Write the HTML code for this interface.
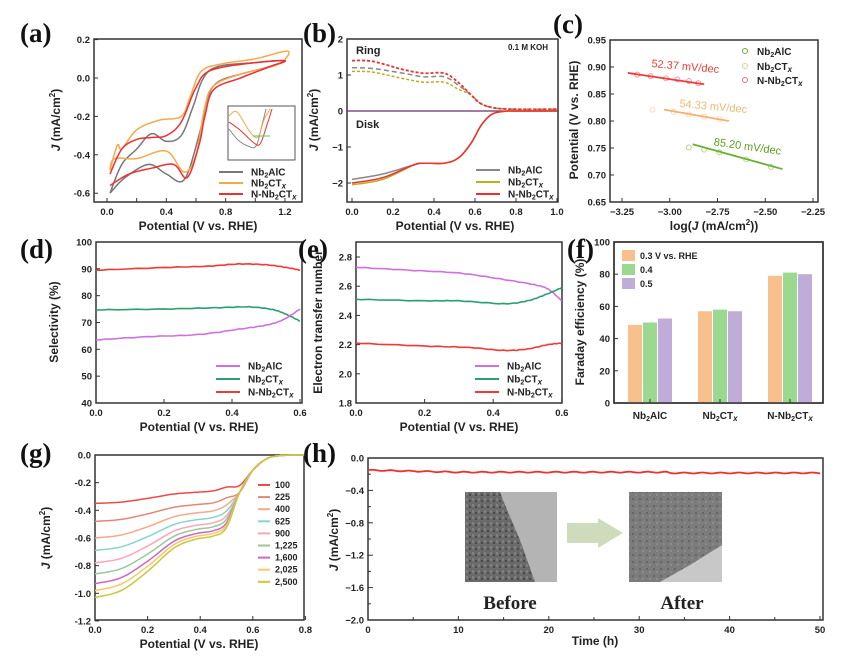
<!DOCTYPE html>
<html><head><meta charset="utf-8"><style>
body{margin:0;background:#fff}
svg{display:block}
text{font-family:"Liberation Sans",sans-serif;font-weight:bold;fill:#222}
.t{font-size:9.5px}
.ax{font-size:12px}
.pl{font-family:"Liberation Serif",serif;font-size:27px;fill:#111}
.lg{font-size:10px}
</style></head><body>
<svg id="s" width="849" height="671" viewBox="0 0 849 671" xmlns="http://www.w3.org/2000/svg">
<defs>
<pattern id="noise" width="6" height="6" patternUnits="userSpaceOnUse">
<rect width="6" height="6" fill="#6a6a6a"/><rect x="1" y="2" width="2" height="2" fill="#4a4a4a"/><rect x="4" y="0" width="2" height="3" fill="#808080"/>
</pattern>
<pattern id="noise2" width="7" height="7" patternUnits="userSpaceOnUse">
<rect width="7" height="7" fill="#7c7c7c"/><rect x="2" y="1" width="2" height="2" fill="#666"/><rect x="5" y="4" width="2" height="2" fill="#8c8c8c"/>
</pattern>
</defs>
<g id="g"></g>
<text class="pl" x="20" y="42">(a)</text>
<text class="pl" x="303" y="42">(b)</text>
<text class="pl" x="553" y="33">(c)</text>
<text class="pl" x="20" y="258">(d)</text>
<text class="pl" x="298" y="258">(e)</text>
<text class="pl" x="567" y="258">(f)</text>
<text class="pl" x="20" y="462">(g)</text>
<text class="pl" x="303" y="462">(h)</text>
<rect x="465" y="492" width="92" height="90" fill="url(#noise)"/>
<polygon points="500,492 557,492 557,582 535,582 520,540 505,505" fill="#b4b4b4"/>
<rect x="629" y="492" width="93" height="90" fill="url(#noise2)"/>
<polygon points="722,545 722,582 660,582 690,565" fill="#c8c8c8"/>
<polygon points="567,523 598,523 598,518 623,533 598,548 598,543 567,543" fill="#cfdcbc"/>
<text x="510" y="609" text-anchor="middle" style="font-family:'Liberation Serif',serif;font-size:19px">Before</text>
<text x="682" y="609" text-anchor="middle" style="font-family:'Liberation Serif',serif;font-size:19px">After</text>
</svg>
<script>
const S=document.getElementById('g');const NS='http://www.w3.org/2000/svg';
function el(t,a,txt){const e=document.createElementNS(NS,t);for(const k in a)e.setAttribute(k,a[k]);if(txt!==undefined)e.textContent=txt;S.appendChild(e);return e;}
function txt(x,y,s,cls,anchor,extra){const e=el('text',Object.assign({x:x,y:y,class:cls||'t','text-anchor':anchor||'middle'},extra||{}));e.innerHTML=s;return e;}
function cr(pts,n){n=n||8;const o=[];for(let i=0;i<pts.length-1;i++){const p0=pts[Math.max(i-1,0)],p1=pts[i],p2=pts[i+1],p3=pts[Math.min(i+2,pts.length-1)];for(let k=0;k<n;k++){const t=k/n,t2=t*t,t3=t2*t;o.push([0.5*((2*p1[0])+(-p0[0]+p2[0])*t+(2*p0[0]-5*p1[0]+4*p2[0]-p3[0])*t2+(-p0[0]+3*p1[0]-3*p2[0]+p3[0])*t3),0.5*((2*p1[1])+(-p0[1]+p2[1])*t+(2*p0[1]-5*p1[1]+4*p2[1]-p3[1])*t2+(-p0[1]+3*p1[1]-3*p2[1]+p3[1])*t3)]);}}o.push(pts[pts.length-1]);return o;}
function line(X,Y,data,col,w,dash,jit){let p=cr(data.map(d=>[X(d[0]),Y(d[1])]));if(jit)p=p.map((q,i)=>[q[0],q[1]+(Math.sin(i*2.3)*jit)]);const a={points:p.map(q=>q[0].toFixed(1)+','+q[1].toFixed(1)).join(' '),fill:'none',stroke:col,'stroke-width':w||1.5,'stroke-linejoin':'round'};if(dash)a['stroke-dasharray']=dash;el('polyline',a);}
function box(x0,y0,x1,y1){el('rect',{x:x0,y:y0,width:x1-x0,height:y1-y0,fill:'none',stroke:'#333','stroke-width':1.5});}
function yt(x0,y,lab,len){el('line',{x1:x0,y1:y,x2:x0+(len||4),y2:y,stroke:'#333','stroke-width':1});if(lab!==null)txt(x0-4,y+3.5,lab,'t','end');}
function xt(x,y1,lab){el('line',{x1:x,y1:y1,x2:x,y2:y1-4,stroke:'#333','stroke-width':1});if(lab!==null)txt(x,y1+13,lab,'t');}
function ylab(x,y,s){txt(x,y,s,'ax','middle',{transform:'rotate(-90 '+x+' '+y+')'});}
function leg(x,y,col,s,w){el('line',{x1:x,y1:y,x2:x+24,y2:y,stroke:col,'stroke-width':w||2});txt(x+32,y+3.5,s,'lg','start');}
const NbAlC='Nb<tspan font-size="7" dy="2">2</tspan><tspan dy="-2">AlC</tspan>';
const NbCT='Nb<tspan font-size="7" dy="2">2</tspan><tspan dy="-2">CT</tspan><tspan font-style="italic" font-size="8" dy="2">x</tspan>';
const NNbCT='N-'+NbCT;
const Jl='<tspan font-style="italic">J</tspan> (mA/cm<tspan font-size="8" dy="-5">2</tspan><tspan dy="5">)</tspan>';
{const X=v=>107+148.3*v,Y=j=>78-192*j;box(94,39,302,202);
[0.2,0,-0.2,-0.4,-0.6].forEach(v=>yt(94,Y(v),v.toFixed(1)));[0,0.4,0.8,1.2].forEach(v=>xt(X(v),202,v.toFixed(1)));
[0.2,0.6,1.0].forEach(v=>xt(X(v),202,null));
txt(198,230,'Potential (V vs. RHE)','ax');ylab(60,120,Jl);
line(X,Y,[[0.02,-0.6],[0.1,-0.45],[0.2,-0.37],[0.3,-0.29],[0.4,-0.33],[0.5,-0.3],[0.58,-0.15],[0.65,0],[0.75,0.06],[1.0,0.08],[1.2,0.09],[1.1,0.06],[0.9,0.02],[0.75,-0.02],[0.68,-0.1],[0.62,-0.3],[0.52,-0.53],[0.4,-0.5],[0.28,-0.45],[0.12,-0.52],[0.02,-0.6]],'#777',1.5);
line(X,Y,[[0.02,-0.48],[0.07,-0.35],[0.1,-0.37],[0.2,-0.27],[0.35,-0.22],[0.5,-0.2],[0.56,-0.1],[0.63,0.03],[0.75,0.07],[1.0,0.1],[1.22,0.14],[1.15,0.07],[0.9,0.02],[0.72,-0.04],[0.66,-0.15],[0.6,-0.4],[0.52,-0.49],[0.4,-0.38],[0.2,-0.42],[0.05,-0.42],[0.02,-0.48]],'#f7a84a',1.5);
line(X,Y,[[0.02,-0.5],[0.1,-0.37],[0.2,-0.32],[0.3,-0.31],[0.4,-0.3],[0.5,-0.23],[0.6,-0.05],[0.7,0.04],[1.0,0.08],[1.2,0.09],[1.1,0.06],[0.9,0.0],[0.72,-0.06],[0.66,-0.2],[0.62,-0.35],[0.54,-0.52],[0.45,-0.45],[0.3,-0.47],[0.15,-0.5],[0.02,-0.56]],'#f03030',1.5);
el('rect',{x:228,y:106,width:67,height:54,fill:'#fff',stroke:'#555','stroke-width':1});
line(x=>x,y=>y,[[229,129],[238,140],[248,146],[256,146],[262,125],[266,109]],'#888',1);
line(x=>x,y=>y,[[229,116],[237,112],[250,132],[258,137],[264,120],[270,109]],'#f7a84a',1);
line(x=>x,y=>y,[[229,122],[240,130],[254,143],[260,144],[266,128],[272,109]],'#f03030',1);
el('line',{x1:253,y1:136,x2:270,y2:136,stroke:'#5c5','stroke-width':1});
leg(219,172,'#777',NbAlC);leg(219,183,'#f7a84a',NbCT);leg(219,194,'#f03030',NNbCT);}
{const X=v=>352+205*v,Y=j=>111-36*j;box(347,39,558,202);
[2,1,0,-1,-2].forEach(v=>yt(347,Y(v),v==0?'0':(v<0?'\u2212'+(-v):''+v)));[0,0.2,0.4,0.6,0.8,1.0].forEach(v=>xt(X(v),202,v.toFixed(1)));
txt(455,230,'Potential (V vs. RHE)','ax');ylab(318,120,Jl);
txt(356,54,'Ring','t','start',{style:'font-size:11px'});txt(356,128,'Disk','t','start',{style:'font-size:11px'});txt(548,50,'0.1 M KOH','t','end',{style:'font-size:8px'});
el('line',{x1:347,y1:111,x2:558,y2:111,stroke:'#6a2a6a','stroke-width':1.2});
const disk=(a)=>[[0,a],[0.15,a+0.15],[0.3,-1.5],[0.35,-1.45],[0.45,-1.45],[0.52,-1.3],[0.58,-0.9],[0.63,-0.4],[0.68,-0.1],[0.74,-0.01],[0.8,0],[1,0]];
line(X,Y,disk(-1.9),'#888',1.5);line(X,Y,disk(-2.05),'#b8b020',1.5);line(X,Y,disk(-2.0),'#f03030',1.5);
const ring=(a,b)=>[[0,a],[0.1,a-0.02],[0.25,b+0.1],[0.35,b],[0.45,b],[0.52,b*0.75],[0.58,0.45],[0.63,0.2],[0.7,0.08],[0.8,0.05],[1,0.05]];
line(X,Y,ring(1.2,0.95),'#888',1.5,'5,3');line(X,Y,ring(1.1,0.8),'#b8b020',1.5,'3,2');line(X,Y,ring(1.4,1.05),'#f03030',1.8,'3,2');
leg(476,170,'#888',NbAlC);leg(476,182,'#b8b020',NbCT);leg(476,194,'#f03030',NNbCT);}
{const X=v=>622+191*(v+3.25),Y=j=>40+540*(0.95-j);box(610,40,818,202);
[0.95,0.9,0.85,0.8,0.75,0.7,0.65].forEach(v=>yt(610,Y(v),v.toFixed(2)));[-3.25,-3,-2.75,-2.5,-2.25].forEach(v=>xt(X(v),202,'\u2212'+(-v).toFixed(2)));
txt(714,230,'log(<tspan font-style="italic">J</tspan> (mA/cm<tspan font-size="8" dy="-5">2</tspan><tspan dy="5">))</tspan>','ax');ylab(578,120,'Potential (V vs. RHE)');
function ser(x0,y0,x1,y1,mk,col){el('line',{x1:X(x0),y1:Y(y0),x2:X(x1),y2:Y(y1),stroke:col,'stroke-width':1.8});mk.forEach(m=>el('circle',{cx:X(m[0]),cy:Y(m[1]),r:2.5,fill:'none',stroke:col,'stroke-width':0.8,opacity:0.6}));}
ser(-3.22,0.889,-2.82,0.868,[[-3.17,0.886],[-3.1,0.883],[-3.02,0.879],[-2.96,0.877],[-2.9,0.874],[-2.85,0.870]],'#f03a3a');
ser(-3.03,0.821,-2.69,0.800,[[-3.09,0.821],[-2.98,0.817],[-2.9,0.812],[-2.82,0.808],[-2.74,0.804]],'#f5b070');
ser(-2.88,0.757,-2.41,0.711,[[-2.9,0.751],[-2.82,0.747],[-2.74,0.742],[-2.6,0.729],[-2.47,0.715]],'#6ab030');
txt(685,70,'52.37 mV/dec','t','middle',{style:'fill:#f03a3a;font-weight:normal;font-size:11px',transform:'rotate(5 685 70)'});
txt(713,110,'54.33 mV/dec','t','middle',{style:'fill:#f0b870;font-weight:normal;font-size:11px',transform:'rotate(5 713 110)'});
txt(747,150,'85.20 mV/dec','t','middle',{style:'fill:#5aa020;font-weight:normal;font-size:11px',transform:'rotate(8 747 150)'});
[['#6ab030',NbAlC,54],['#f0c890',NbCT,69],['#f07070',NNbCT,83]].forEach(a=>{el('circle',{cx:745,cy:a[2]-3,r:2.5,fill:'none',stroke:a[0]});txt(757,a[2]+1,a[1],'lg','start');});}
{const X=v=>96+340*v,Y=j=>242+2.683*(100-j);box(96,242,302,403);
[100,90,80,70,60,50,40].forEach(v=>yt(96,Y(v),''+v));[0,0.2,0.4,0.6].forEach(v=>xt(X(v),403,v.toFixed(1)));
txt(199,431,'Potential (V vs. RHE)','ax');ylab(58,322,'Selectivity (%)');
line(X,Y,[[0,89.5],[0.2,90.5],[0.33,91],[0.42,91.8],[0.5,91.5],[0.56,90.5],[0.6,89.5]],'#f03a3a',1.6,null,0.3);
line(X,Y,[[0,74.7],[0.2,75],[0.35,75.5],[0.45,75.8],[0.52,74.8],[0.56,73],[0.6,70.5]],'#2aa070',1.6,null,0.3);
line(X,Y,[[0,63.5],[0.15,64.7],[0.3,65.5],[0.42,67.5],[0.5,69],[0.55,71],[0.6,75]],'#d070e0',1.6,null,0.3);
leg(216,366,'#d070e0',NbAlC);leg(216,379,'#2aa070',NbCT);leg(216,392,'#f03a3a',NNbCT);}
{const X=v=>356+343*v,Y=j=>257+146*(2.8-j);box(356,242,562,403);
[2.8,2.6,2.4,2.2,2.0,1.8].forEach(v=>yt(356,Y(v),v.toFixed(1)));[0,0.2,0.4,0.6].forEach(v=>xt(X(v),403,v.toFixed(1)));
txt(459,431,'Potential (V vs. RHE)','ax');ylab(322,322,'Electron  transfer number');
line(X,Y,[[0,2.73],[0.15,2.71],[0.3,2.69],[0.42,2.65],[0.52,2.61],[0.56,2.58],[0.6,2.5]],'#d070e0',1.6,null,0.3);
line(X,Y,[[0,2.51],[0.2,2.5],[0.3,2.5],[0.43,2.48],[0.5,2.5],[0.55,2.54],[0.6,2.59]],'#2aa070',1.6,null,0.3);
line(X,Y,[[0,2.21],[0.2,2.19],[0.33,2.18],[0.43,2.16],[0.5,2.17],[0.56,2.2],[0.6,2.21]],'#f03a3a',1.6,null,0.3);
leg(475,366,'#d070e0',NbAlC);leg(475,379,'#2aa070',NbCT);leg(475,392,'#f03a3a',NNbCT);}
{const Y=j=>403-1.61*j;box(614,242,823,403);
[100,80,60,40,20,0].forEach(v=>yt(614,Y(v),''+v));
ylab(584,322,'Faraday efficiency (%)');
const cols=['#f8c08c','#9bd890','#c0acd8'];const vals=[[48.5,50,52.5],[57,58,57],[79,81,80]];const cx=[650,720,790];
vals.forEach((g,i)=>g.forEach((v,k)=>el('rect',{x:cx[i]-22+k*15,y:Y(v),width:14,height:403-Y(v),fill:cols[k]})));
box(614,242,823,403);
[NbAlC,NbCT,NNbCT].forEach((s,i)=>{xt(cx[i],403,null);txt(cx[i],419,s,'lg');});
['0.3 V vs. RHE','0.4','0.5'].forEach((s,i)=>{el('rect',{x:622,y:250+i*14,width:13,height:11,fill:cols[i]});txt(640,259+i*14,s,'t','start',{style:'font-size:9px'});});}
{const X=v=>95+263*v,Y=j=>455+138.3*(-j);box(95,455,304,620);
[0,-0.2,-0.4,-0.6,-0.8,-1.0,-1.2].forEach(v=>yt(95,Y(v),v==0?'0.0':v.toFixed(1)));[0,0.2,0.4,0.6,0.8].forEach(v=>xt(X(v),620,v.toFixed(1)));
txt(199,648,'Potential (V vs. RHE)','ax');ylab(50,538,Jl);
const J0=[-0.35,-0.48,-0.6,-0.69,-0.78,-0.86,-0.93,-0.98,-1.03];const Sh=[-0.27,-0.36,-0.42,-0.47,-0.51,-0.54,-0.57,-0.59,-0.61];
const C=['#f04848','#e08878','#f8a888','#88d4cc','#f8a8b8','#98c898','#c868c8','#f8c868','#c8c838'];const L=['100','225','400','625','900','1,225','1,600','2,025','2,500'];
J0.forEach((j,i)=>{const s=Sh[i];line(X,Y,[[0,j],[0.1,j+0.12*(s-j)],[0.2,j+0.45*(s-j)],[0.3,j+0.85*(s-j)],[0.38,s],[0.45,s*0.96],[0.5,s*0.86],[0.55,-0.27+0.05*(i==0)],[0.6,-0.11],[0.65,-0.03],[0.7,-0.005],[0.8,0]],C[i],1.5);
el('line',{x1:258,y1:485+i*12.1,x2:270,y2:485+i*12.1,stroke:C[i],'stroke-width':2});txt(275,488+i*12.1,L[i],'t','start',{style:'font-size:9px'});});}
{const X=v=>368+9.04*v,Y=j=>458+81*(-j);box(368,458,823,620);
[0,-0.4,-0.8,-1.2,-1.6,-2.0].forEach(v=>yt(368,Y(v),v==0?'0.0':'\u2212'+(-v).toFixed(1),5));
[-0.2,-0.6,-1.0,-1.4,-1.8].forEach(v=>yt(368,Y(v),null,3));
[0,10,20,30,40,50].forEach(v=>xt(X(v),620,''+v));[5,15,25,35,45].forEach(v=>el('line',{x1:X(v),y1:620,x2:X(v),y2:617,stroke:'#333'}));
txt(595,645,'Time (h)','ax');ylab(338,540,Jl);
const d=[];for(let t=0;t<=50;t+=0.5){d.push([t,-0.15-0.025*Math.min(1,t/10)-(t>33?0.01:0)+0.006*Math.sin(t*3.1)]);}
line(X,Y,d,'#f03030',1.8);}
</script>
</body></html>
